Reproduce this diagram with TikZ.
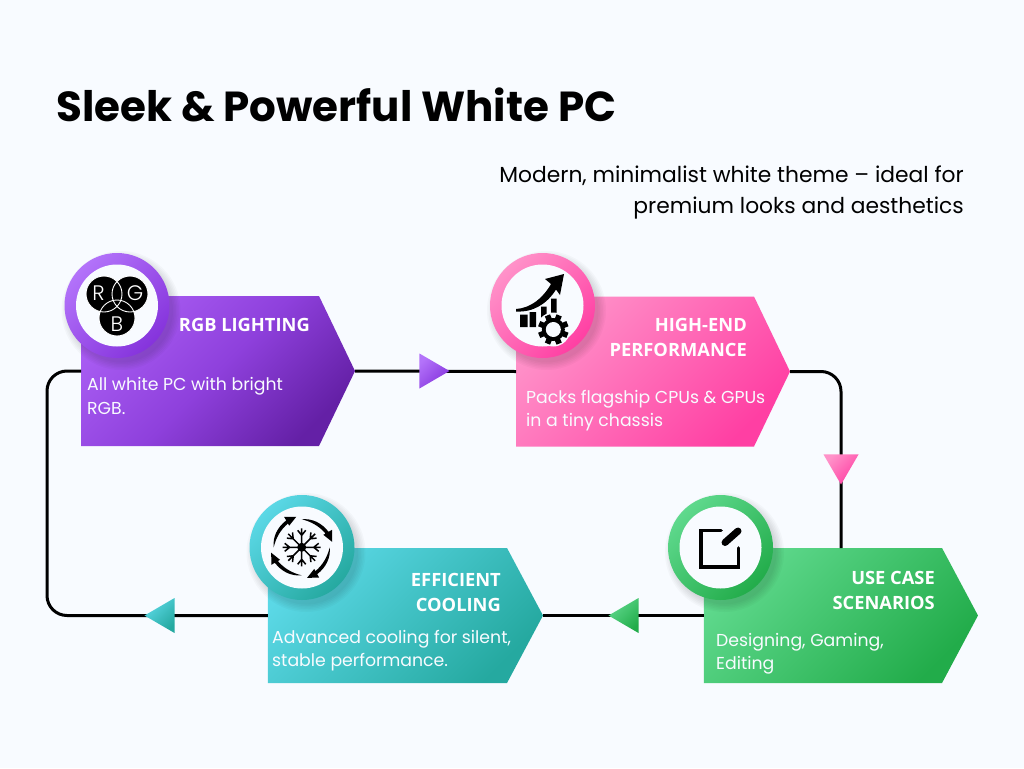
\documentclass[tikz,border=0pt]{standalone}
\usepackage{fontspec}
\setmainfont{Poppins}
\newfontfamily\headfont{Open Sans}
\newfontfamily\thinfont{Poppins Light}
\usetikzlibrary{shapes.symbols,shapes.geometric}
\definecolor{pagebg}{HTML}{F8FBFF}
\definecolor{purplea}{HTML}{A85CF2}
\definecolor{purpleb}{HTML}{6420A6}
\definecolor{purplec}{HTML}{B373FA}
\definecolor{purpled}{HTML}{8533DC}
\definecolor{purplem}{HTML}{8E40DC}
\definecolor{pinka}{HTML}{FF92C9}
\definecolor{pinkb}{HTML}{FF3FA3}
\definecolor{teala}{HTML}{5BD8E6}
\definecolor{tealb}{HTML}{25A9A0}
\definecolor{greena}{HTML}{5FD98D}
\definecolor{greenb}{HTML}{22AC4A}
\tikzset{
  twotone/.style 2 args={left color=#1, right color=#2, shading angle=45},
  pentbox/.style={signal, signal to=east, minimum width=274pt, inner sep=0pt, outer sep=0pt},
  pentupper/.style={pentbox, signal pointer angle=128.7, minimum height=150pt},
  pentlower/.style={pentbox, signal pointer angle=123.9, minimum height=135pt},
  ringouter/.style={circle, minimum size=105pt, inner sep=0pt},
  ringinner/.style={circle, minimum size=82pt, inner sep=0pt, fill=pagebg},
  marker/.style={isosceles triangle, isosceles triangle stretches, minimum width=35pt, minimum height=30pt,
    inner sep=0pt, anchor=apex},
  flowline/.style={line width=3pt, black, rounded corners=20pt},
  headtext/.style={text=white, anchor=east, align=right, inner sep=0pt, font=\headfont\bfseries\fontsize{18.3}{25}\selectfont},
  bodytext/.style={text=pagebg, anchor=west, align=left, inner sep=0pt, font=\fontsize{17.3}{23.5}\selectfont},
  rgbletter/.style={text=white, font=\thinfont\fontsize{21}{21}\selectfont},
}
\begin{document}
\begin{tikzpicture}[x=1pt, y=-1pt]
\useasboundingbox (0,0) rectangle (1024,768);
\fill[pagebg] (0,0) rectangle (1024,768);
\node [pentupper, left color=purplea, right color=purpleb, middle color=purplem, shading angle=45] (rgbbox) at (200,371) {};
\node [pentupper, twotone={pinka}{pinkb}] (perfbox) at (635,371.5) {};
\node [pentlower, minimum width=275pt, twotone={teala}{tealb}] (coolbox) at (387.5,615.5) {};
\node [pentlower, twotone={greena}{greenb}] (usebox) at (823,615.5) {};
\coordinate (loopleft) at (47,500);
\draw[flowline] (rgbbox.east) -- (perfbox.west);
\draw[flowline] (perfbox.east) -| ([xshift=18pt]usebox.north);
\draw[flowline] (usebox.west) -- (coolbox.east);
\draw[flowline] (coolbox.west) -| (loopleft) |- (rgbbox.west);
\node [marker, twotone={purplec}{purpled}] (rgbmark) at (450,371) {};
\node [marker, shape border rotate=-90, twotone={pinka}{pinkb}] (perfmark) at (841,485) {};
\node [marker, shape border rotate=180, twotone={greena}{greenb}] (usemark) at (608,615.5) {};
\node [marker, shape border rotate=180, twotone={teala}{tealb}] (coolmark) at (144,615.5) {};
% soft shadows under the rings
\foreach \cx/\cy in {117/305.5, 542.5/305.5, 302/547.5, 720.5/547.5}
  \foreach \rr in {52,53.5,...,60}
    \fill[black, opacity=0.022] (\cx+4,\cy+5) circle [radius=\rr];
\node [ringouter, twotone={purplec}{purpled}] (rgbring) at (117,305.5) {};
\node [ringouter, twotone={pinka}{pinkb}] (perfring) at (542.5,305.5) {};
\node [ringouter, twotone={teala}{tealb}] (coolring) at (302,547.5) {};
\node [ringouter, twotone={greena}{greenb}] (usering) at (720.5,547.5) {};
\node [ringinner] (rgbdisc) at (rgbring) {};
\node [ringinner] (perfdisc) at (perfring) {};
\node [ringinner] (cooldisc) at (coolring) {};
\node [ringinner] (usedisc) at (usering) {};
% rgb icon
\fill[black] (104,294) circle [radius=18] (130,294) circle [radius=18] (117,318) circle [radius=18];
\draw[white, line width=0.9pt] (104,294) circle [radius=18] (130,294) circle [radius=18] (117,318) circle [radius=18];
\node [rgbletter] (letterr) at (98.5,293) {R};
\node [rgbletter] (letterg) at (135,293) {G};
\node [rgbletter] (letterb) at (117,324) {B};
% performance icon
\fill[black] (520,314.5) rectangle (527.5,327) (529.5,312) rectangle (536,327) (541,306.5) rectangle (546.7,318) (551,298.5) rectangle (556.7,318);
\fill[black] (516,309) .. controls (531,308) and (543,298) .. (551,284) -- (545,279) -- (564,274) -- (560,295) -- (556,289.5) .. controls (547,304) and (533,312.5) .. (516,311.5) -- cycle;
\fill[pagebg] (553.3,329.5) circle [radius=17];
\fill[black] (553.3,329.5) circle [radius=11.5];
\foreach \ang in {0,45,...,315}
  \fill[black, shift={(553.3,329.5)}, rotate=\ang+22.5] (-2.8,-15.3) rectangle (2.8,-9);
\fill[pagebg] (553.3,329.5) circle [radius=7.5];
% cooling icon
\begin{scope}[shift={(301.7,547.3)}, y=1pt]
\foreach \ang in {0,45,...,315} {
  \draw[black, line width=1.5pt, rotate=\ang] (0,0) -- (19,0) (12,0) -- (17,4) (12,0) -- (17,-4);
}
\fill[black] (0,0) circle [radius=4.5];
\foreach \ang in {0,-90,-180,-270}
  \fill[black, rotate=\ang] (180:28) .. controls (160:31) and (140:31.5) .. (120:31) -- (120:35) -- (100:31) -- (120:25) -- (120:27.5) .. controls (140:27.5) and (160:27.5) .. cycle;
\end{scope}
% use case icon
\draw[black, line width=3.6pt, line cap=round, line join=miter] (721,530.5) -- (701,530.5) -- (701,567) -- (738.5,567) -- (738.5,548);
\draw[black, line width=7pt, line cap=round] (725,542.5) -- (738,531);
% texts
\node [anchor=base west, inner sep=0pt, font=\bfseries\fontsize{42}{42}\selectfont] (title) at (56,121) {Sleek \& Powerful White PC};
\node [anchor=east, align=right, inner sep=0pt, font=\fontsize{21.8}{31}\selectfont] (subtitle) at (964,193) {Modern, minimalist white theme -- ideal for\\premium looks and aesthetics};
\node [headtext] (rgbhead) at (310,325) {RGB LIGHTING};
\node [headtext] (perfhead) at (747,337.5) {HIGH-END\\PERFORMANCE};
\node [headtext] (coolhead) at (501,592.5) {EFFICIENT\\COOLING};
\node [headtext] (usehead) at (935,590.5) {USE CASE\\SCENARIOS};
\node [bodytext] (rgbtext) at (87,396) {All white PC with bright\\RGB.};
\node [bodytext] (perftext) at (526,410.5) {Packs flagship CPUs \& GPUs\\in a tiny chassis};
\node [bodytext] (cooltext) at (272,650.5) {Advanced cooling for silent,\\stable performance.};
\node [bodytext] (usetext) at (716,653.5) {Designing, Gaming,\\Editing};
\end{tikzpicture}
\end{document}
